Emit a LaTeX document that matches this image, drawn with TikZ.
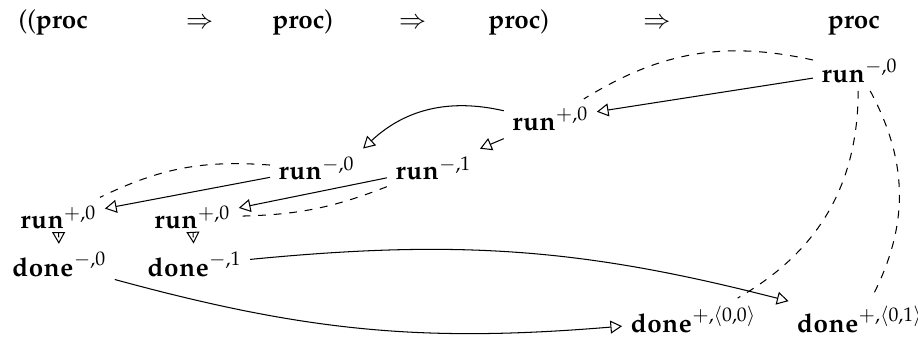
\documentclass[tikz,border=0pt]{standalone}
\usepackage[T1]{fontenc}
\usepackage{mathpazo}
\usepackage{tikz}
\usetikzlibrary{arrows.meta}
\tikzset{
  tok/.style={anchor=base west,inner sep=3pt},
  imp/.style={anchor=base,inner sep=3pt},
  ev/.style={anchor=base west,inner sep=3pt},
  flow/.style={-{Triangle[open,length=4.5pt,width=5pt]}},
  ptr/.style={dashed}
}
\newcommand{\mv}[2]{$\mathbf{#1}^{#2}$}

\begin{document}
\begin{tikzpicture}
  \useasboundingbox (0,0) rectangle (12.41,4.58);
  % the type
  \node[tok] (t1) at (0.14,4.19) {((\textbf{proc}};
  \node[imp] (t2) at (2.70,4.19) {$\Rightarrow$};
  \node[tok] (t3) at (3.57,4.19) {\textbf{proc})};
  \node[imp] (t4) at (5.58,4.19) {$\Rightarrow$};
  \node[tok] (t5) at (6.49,4.19) {\textbf{proc})};
  \node[imp] (t6) at (8.88,4.19) {$\Rightarrow$};
  \node[tok] (t7) at (11.08,4.19) {\textbf{proc}};
  % moves
  \node[ev] (rA) at (10.99,3.47) {\mv{run}{-,0}};
  \node[ev] (rB) at (6.81,2.82) {\mv{run}{+,0}};
  \node[ev] (rC) at (3.65,2.15) {\mv{run}{-,0}};
  \node[ev] (rD) at (5.23,2.15) {\mv{run}{-,1}};
  \node[ev] (rE) at (0.16,1.49) {\mv{run}{+,0}};
  \node[ev] (rF) at (1.97,1.49) {\mv{run}{+,0}};
  \node[ev] (dE) at (0.05,0.84) {\mv{done}{-,0}};
  \node[ev] (dF) at (1.88,0.84) {\mv{done}{-,1}};
  \node[ev] (dG) at (8.41,0.08) {\mv{done}{+,\langle 0,0\rangle}};
  \node[ev] (dH) at (10.66,0.08) {\mv{done}{+,\langle 0,1\rangle}};
  % causal order
  \draw[flow] (rA) -- (rB);
  \draw[flow] (rB.170) to[bend right=28] (rC.north east);
  \draw[flow] (rB) -- (rD);
  \draw[flow] (rC) -- (rE);
  \draw[flow] (rD) -- (rF);
  \draw[flow] (rE) -- (dE);
  \draw[flow] (rF) -- (dF);
  \draw[flow] (dE) to[bend right=10] (dG);
  \draw[flow] (dF) to[bend left=10] (dH);
  % justification pointers
  \draw[ptr] (rA) to[bend right=22] (rB);
  \draw[ptr] (rC) to[bend right=15] (rE);
  \draw[ptr] (rD) to[bend left=10] (rF);
  \draw[ptr] (rA) to[bend left=30] (dG);
  \draw[ptr] (rA) to[bend left=28] (dH);
\end{tikzpicture}
\end{document}
